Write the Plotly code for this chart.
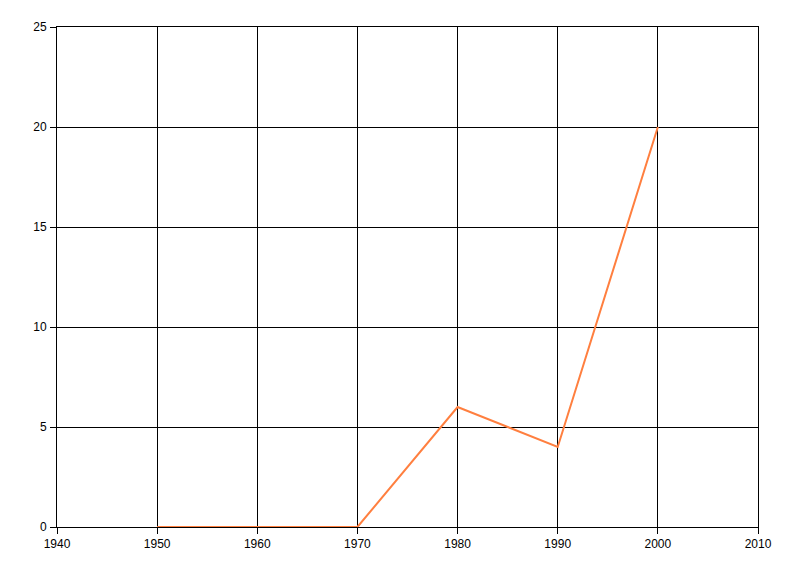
import plotly.graph_objects as go

years = [1950, 1960, 1970, 1980, 1990, 2000]
values = [0, 0, 0, 6, 4, 20]
x_ticks = [1940, 1950, 1960, 1970, 1980, 1990, 2000, 2010]
y_ticks = [0, 5, 10, 15, 20, 25]

fig = go.Figure()
fig.add_trace(go.Scatter(x=years, y=values, mode="lines",
                         line=dict(color="#FF7F3F", width=2), showlegend=False))

axis_common = dict(showgrid=True, gridcolor="black", gridwidth=1,
                   zeroline=False, showline=True, mirror=True, linecolor="black", linewidth=1,
                   ticks="outside", ticklen=6, tickcolor="black", tickwidth=1,
                   tickfont=dict(family="Liberation Sans, Arial, sans-serif", size=12, color="black"))

fig.update_layout(
    width=792, height=568,
    margin=dict(l=49, r=42, t=19, b=49),
    paper_bgcolor="white", plot_bgcolor="white",
    xaxis=dict(range=[1940, 2010], tickvals=x_ticks, ticklabelstandoff=0, **axis_common),
    yaxis=dict(range=[0, 25], tickvals=y_ticks, ticklabelstandoff=1, **axis_common),
)

fig.write_html("out.html")
